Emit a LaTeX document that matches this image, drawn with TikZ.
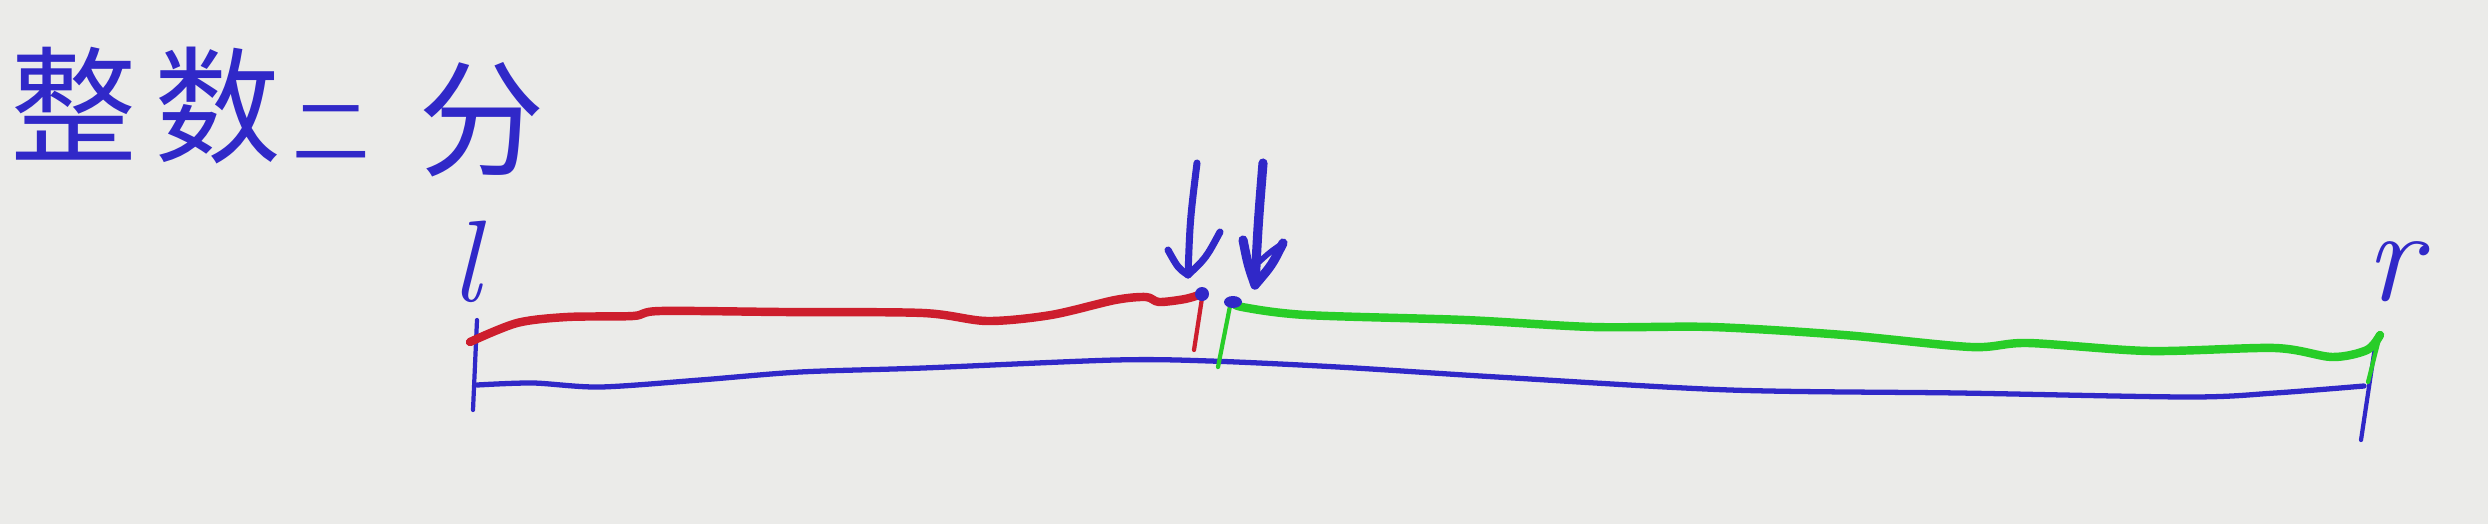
\documentclass[tikz,border=0pt]{standalone}
\usepackage{fontspec}
\newfontfamily\cjk{Noto Sans CJK SC}
\definecolor{bg}{RGB}{235,235,233}
\definecolor{ink}{RGB}{48,40,200}
\definecolor{inkred}{RGB}{205,30,45}
\definecolor{inkgreen}{RGB}{40,205,40}
\begin{document}
\begin{tikzpicture}[x=0.01cm,y=-0.01cm,
  stroke/.style={line cap=round,line join=round},
  bluebase/.style={stroke,draw=ink,line width=1.5pt},
  bluetick/.style={stroke,draw=ink,line width=1.2pt},
  redline/.style={stroke,draw=inkred,line width=2.4pt},
  greenline/.style={stroke,draw=inkgreen,line width=2.4pt},
  redtick/.style={stroke,draw=inkred,line width=1.2pt},
  greentick/.style={stroke,draw=inkgreen,line width=1.2pt},
  arrowpen/.style={stroke,draw=ink,line width=2.0pt},
  handtext/.style={text=ink,inner sep=0pt},
  cjkbig/.style={handtext,font=\cjk\fontsize{36}{42}\selectfont}]
\fill[bg] (0,0) rectangle (2488,524);
\useasboundingbox (0,0) rectangle (2488,524);
% title
\node[cjkbig] (t1) at (74,104) {整};
\node[cjkbig] (t2) at (218,106) {数};
\node[handtext,font=\cjk\fontsize{22}{26}\selectfont] (t3) at (331,133) {二};
\node[cjkbig] (t4) at (482,120) {分};
% labels
\node[handtext] (lbl) at (466,262) {\fontsize{33}{40}\selectfont\itshape l};
\node[handtext] (rbl) at (2393,272) {\fontsize{38}{44}\selectfont\itshape r};
% blue base segment
\draw[bluebase] plot[smooth,tension=0.5] coordinates {(477,385) (533,383) (600,387) (700,380) (800,372) (923,368) (1115,360) (1210,361) (1338,367) (1497,377) (1730,390) (1959,393) (2189,397) (2275,393) (2364,386)};
\draw[bluetick] (477,320) -- (473,410);
\draw[bluetick] (2376,340) -- (2361,440);
% red part
\draw[redline] plot[smooth,tension=0.5] coordinates {(470,342) (517,323) (567,317) (633,316) (660,311) (783,312) (923,313) (987,321) (1051,315) (1115,300) (1146,297) (1159,302) (1185,299) (1202,294)};
\draw[redtick] (1202,298) -- (1194,350);
% green part
\draw[greenline] plot[smooth,tension=0.5] coordinates {(1233,302) (1242,307) (1306,315) (1465,320) (1593,327) (1712,327) (1844,335) (1971,347) (2028,343) (2149,351) (2275,348) (2332,357) (2367,350) (2380,335)};
\draw[greentick] (1230,306) -- (1218,367);
\draw[greentick] (2380,335) -- (2368,382);
% dots
\fill[ink] (1202,294) circle (7);
\fill[ink] (1233,302) ellipse (9 and 6);
% arrows
\draw[arrowpen] (1197,163) .. controls (1190,220) .. (1188,275);
\draw[arrowpen] (1168,250) .. controls (1178,268) .. (1188,275) .. controls (1206,258) .. (1220,232);
\draw[arrowpen,line width=2.6pt] (1263,163) .. controls (1258,225) .. (1255,285);
\draw[arrowpen,line width=2.6pt] (1243,240) .. controls (1248,265) .. (1255,285) .. controls (1272,265) .. (1283,243);
\draw[arrowpen,line width=1.6pt] (1283,243) .. controls (1270,252) .. (1259,262);
\end{tikzpicture}
\end{document}
